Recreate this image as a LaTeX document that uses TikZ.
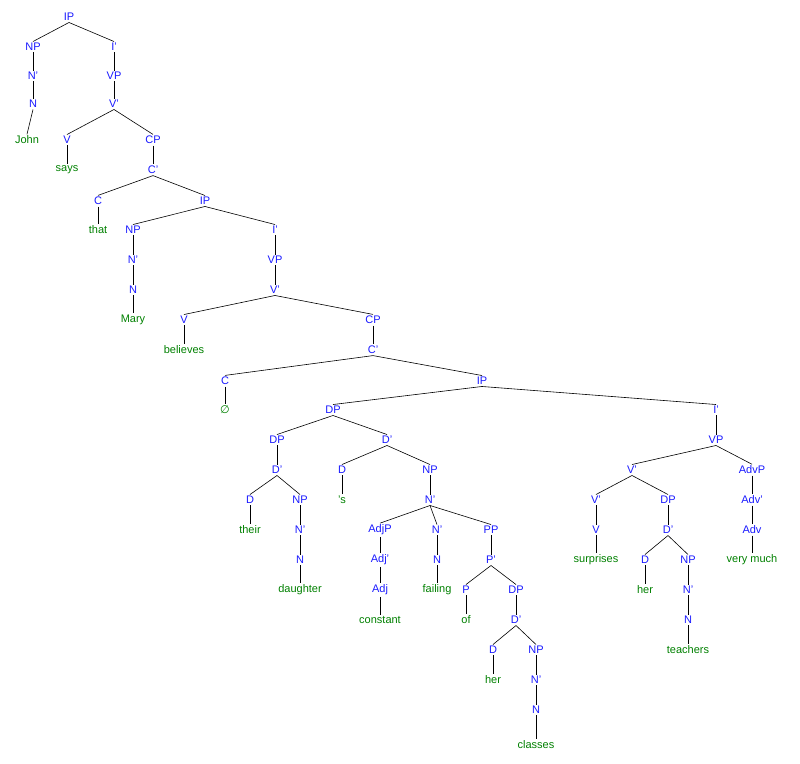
\documentclass[tikz,border=0pt]{standalone}
\usepackage{fontspec}
\setmainfont{Liberation Sans}
\newfontfamily\djv{DejaVu Sans}
\begin{document}
\begin{tikzpicture}[x=1pt,y=-1pt,
  lab/.style={text=blue!90!white,font=\fontsize{11}{12}\selectfont,inner sep=1.5pt},
  wd/.style={text=green!50!black,font=\fontsize{11}{12}\selectfont,inner sep=1.5pt},
  br/.style={draw=black,line width=0.6pt}]
\useasboundingbox (0,0) rectangle (800,763);
\node[lab] (ip1) at (69,17) {IP};
\node[lab] (np1) at (33,47) {NP};
\node[lab] (i1) at (114,47) {I'};
\node[lab] (n1b) at (33,76) {N'};
\node[lab] (vp1) at (114,76) {VP};
\node[lab] (n1) at (33,104) {N};
\node[lab] (v1b) at (114,104) {V'};
\node[wd] (john) at (27,140) {John};
\node[lab] (v1) at (67,140) {V};
\node[lab] (cp1) at (153,140) {CP};
\node[wd] (says) at (67,170) {says};
\node[lab] (c1b) at (153,170) {C'};
\node[lab] (c1) at (98,201) {C};
\node[lab] (ip2) at (205,201) {IP};
\node[wd] (that) at (98,230) {that};
\node[lab] (np2) at (133,230) {NP};
\node[lab] (i2) at (275,230) {I'};
\node[lab] (n2b) at (133,260) {N'};
\node[lab] (vp2) at (275,260) {VP};
\node[lab] (n2) at (133,290) {N};
\node[lab] (v2b) at (275,290) {V'};
\node[wd] (mary) at (133,320) {Mary};
\node[lab] (v2) at (184,320) {V};
\node[lab] (cp2) at (373,320) {CP};
\node[wd] (believes) at (184,350) {believes};
\node[lab] (c2b) at (373,350) {C'};
\node[lab] (c2) at (225,381) {C};
\node[lab] (ip3) at (482,381) {IP};
\node[wd] (empty) at (225,410) {\djv ∅};
\node[lab] (dp1) at (333,410) {DP};
\node[lab] (i3) at (716,410) {I'};
\node[lab] (dp2) at (277,440) {DP};
\node[lab] (d1b) at (387,440) {D'};
\node[lab] (vp3) at (716,440) {VP};
\node[lab] (d2b) at (277,470) {D'};
\node[lab] (d2) at (342,470) {D};
\node[lab] (np3) at (430,470) {NP};
\node[lab] (v3b) at (632,470) {V'};
\node[lab] (advp) at (752,470) {AdvP};
\node[lab] (d3) at (250,500) {D};
\node[lab] (np4) at (300,500) {NP};
\node[wd] (s) at (342,500) {'s};
\node[lab] (n3b) at (430,500) {N'};
\node[lab] (v4b) at (596,500) {V'};
\node[lab] (dp3) at (668,500) {DP};
\node[lab] (advb) at (752,500) {Adv'};
\node[wd] (their) at (250,530) {their};
\node[lab] (n4b) at (300,530) {N'};
\node[lab] (adjp) at (380,530) {AdjP};
\node[lab] (n5b) at (437,530) {N'};
\node[lab] (pp) at (491,530) {PP};
\node[lab] (v4) at (596,530) {V};
\node[lab] (d4b) at (668,530) {D'};
\node[lab] (adv) at (752,530) {Adv};
\node[lab] (n4) at (300,560) {N};
\node[lab] (adjb) at (380,560) {Adj'};
\node[lab] (n5) at (437,560) {N};
\node[lab] (pb) at (491,560) {P'};
\node[wd] (surprises) at (596,560) {surprises};
\node[lab] (d5) at (645,560) {D};
\node[lab] (np5) at (688,560) {NP};
\node[wd] (verymuch) at (752,560) {very much};
\node[wd] (daughter) at (300,590) {daughter};
\node[lab] (adj) at (380,590) {Adj};
\node[wd] (failing) at (437,590) {failing};
\node[lab] (p) at (466,590) {P};
\node[lab] (dp4) at (516,590) {DP};
\node[wd] (her1) at (645,590) {her};
\node[lab] (n6b) at (688,590) {N'};
\node[wd] (constant) at (380,620) {constant};
\node[wd] (of) at (466,620) {of};
\node[lab] (d6b) at (516,620) {D'};
\node[lab] (n6) at (688,620) {N};
\node[lab] (d6) at (493,650) {D};
\node[lab] (np6) at (536,650) {NP};
\node[wd] (teachers) at (688,650) {teachers};
\node[wd] (her2) at (493,680) {her};
\node[lab] (n7b) at (536,680) {N'};
\node[lab] (n7) at (536,710) {N};
\node[wd] (classes) at (536,745) {classes};
\foreach \a/\b in {ip1/np1,ip1/i1,np1/n1b,n1b/n1,n1/john,i1/vp1,vp1/v1b,v1b/v1,v1b/cp1,v1/says,cp1/c1b,c1b/c1,c1b/ip2,c1/that,ip2/np2,ip2/i2,np2/n2b,n2b/n2,n2/mary,i2/vp2,vp2/v2b,v2b/v2,v2b/cp2,v2/believes,cp2/c2b,c2b/c2,c2b/ip3,c2/empty,ip3/dp1,ip3/i3,dp1/dp2,dp1/d1b,dp2/d2b,d2b/d3,d2b/np4,d3/their,np4/n4b,n4b/n4,n4/daughter,d1b/d2,d1b/np3,d2/s,np3/n3b,n3b/adjp,n3b/n5b,n3b/pp,adjp/adjb,adjb/adj,adj/constant,n5b/n5,n5/failing,pp/pb,pb/p,pb/dp4,p/of,dp4/d6b,d6b/d6,d6b/np6,d6/her2,np6/n7b,n7b/n7,n7/classes,i3/vp3,vp3/v3b,vp3/advp,v3b/v4b,v3b/dp3,v4b/v4,v4/surprises,dp3/d4b,d4b/d5,d4b/np5,d5/her1,np5/n6b,n6b/n6,n6/teachers,advp/advb,advb/adv,adv/verymuch}
  \draw[br] (\a.south) -- (\b.north);
\end{tikzpicture}
\end{document}
